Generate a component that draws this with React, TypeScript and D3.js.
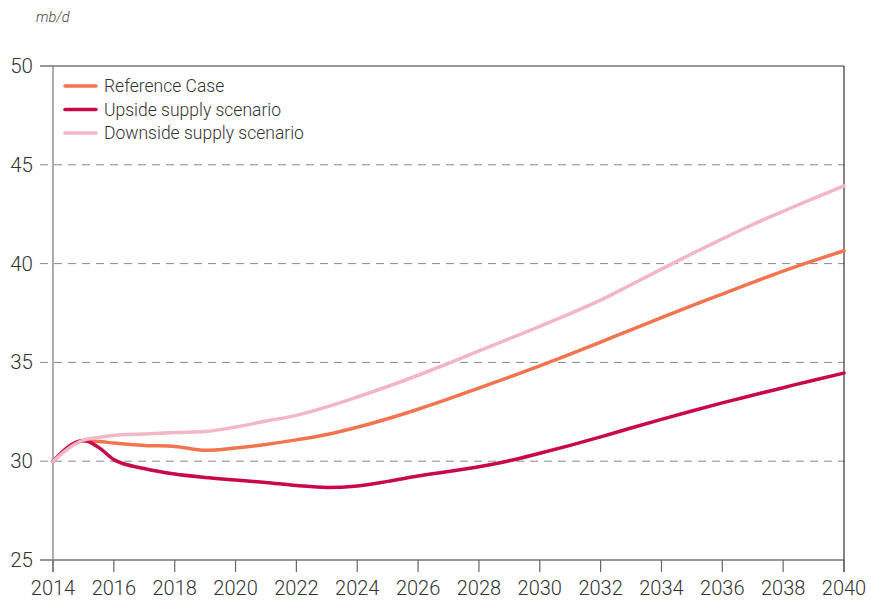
import React from "react";
import * as d3 from "d3";

const years = [2014, 2015, 2015.5, 2016, 2017, 2018, 2019, 2020, 2021, 2022, 2023, 2024, 2025, 2026, 2027, 2028, 2029, 2030, 2031, 2032, 2033, 2034, 2035, 2036, 2037, 2038, 2039, 2040];
const referenceCase = [30.0, 31.02, 31.0, 30.92, 30.8, 30.75, 30.55, 30.67, 30.85, 31.08, 31.35, 31.72, 32.15, 32.63, 33.15, 33.7, 34.25, 34.82, 35.42, 36.03, 36.65, 37.26, 37.87, 38.46, 39.05, 39.62, 40.15, 40.65];
const upsideSupply = [30.0, 31.05, 30.7, 30.08, 29.63, 29.35, 29.18, 29.05, 28.92, 28.77, 28.67, 28.75, 28.98, 29.25, 29.48, 29.72, 30.02, 30.4, 30.8, 31.23, 31.68, 32.12, 32.54, 32.95, 33.34, 33.72, 34.1, 34.46];
const downsideSupply = [30.0, 31.07, 31.2, 31.3, 31.38, 31.45, 31.5, 31.73, 32.03, 32.32, 32.75, 33.25, 33.78, 34.35, 34.95, 35.58, 36.2, 36.82, 37.47, 38.15, 38.93, 39.72, 40.5, 41.25, 41.98, 42.65, 43.3, 43.93];

const xTicks = [2014, 2016, 2018, 2020, 2022, 2024, 2026, 2028, 2030, 2032, 2034, 2036, 2038, 2040];
const yTicks = [25, 30, 35, 40, 45, 50];
const seriesNames = ["Reference Case", "Upside supply scenario", "Downside supply scenario"];
const seriesColors = ["#f2754f", "#c8084a", "#f2b6c6"];
const unitLabel = "mb/d";

const W = 871;
const H = 600;
const M = { left: 53, right: 844, top: 66, bottom: 560 };
const FONT = "Roboto, 'Open Sans', sans-serif";

export default function App() {
  const x = d3.scaleLinear().domain([2014, 2040]).range([M.left, M.right]);
  const y = d3.scaleLinear().domain([25, 50]).range([M.bottom, M.top]);
  const line = d3
    .line<number>()
    .x((_, i) => x(years[i]))
    .y((d) => y(d))
    .curve(d3.curveMonotoneX);
  const series = [referenceCase, upsideSupply, downsideSupply];
  const drawOrder = [0, 1, 2];

  return (
    <svg width={W} height={H} style={{ position: "absolute", left: 0, top: 0, background: "#fff" }}>
      <text x={36} y={22} fontFamily={FONT} fontStyle="italic" fontWeight={300} fontSize={14.5} fill="#444">
        {unitLabel}
      </text>
      {/* gridlines */}
      {yTicks.filter((t) => t > 25 && t < 50).map((t) => (
        <line key={t} x1={40} x2={M.right} y1={y(t)} y2={y(t)} stroke="#888" strokeWidth={1} strokeDasharray="8,6" />
      ))}
      {/* frame */}
      <line x1={40} x2={M.right} y1={y(50)} y2={y(50)} stroke="#333" strokeWidth={1.2} />
      <line x1={40} x2={M.right} y1={y(25)} y2={y(25)} stroke="#333" strokeWidth={1.2} />
      <line x1={M.left} x2={M.left} y1={M.top} y2={M.bottom + 12} stroke="#777" strokeWidth={1.2} />
      <line x1={M.right} x2={M.right} y1={M.top} y2={M.bottom + 12} stroke="#333" strokeWidth={1.2} />
      {/* y labels */}
      {yTicks.map((t) => (
        <text key={t} x={33} y={y(t) + 7} textAnchor="end" fontFamily={FONT} fontWeight={300} fontSize={20.5} fill="#333">
          {t}
        </text>
      ))}
      {/* x ticks */}
      {xTicks.map((t) => (
        <g key={t}>
          <line x1={x(t)} x2={x(t)} y1={M.bottom} y2={M.bottom + 12} stroke="#666" strokeWidth={1.2} />
          <text x={x(t)} y={595} textAnchor="middle" fontFamily={FONT} fontWeight={300} fontSize={20} fill="#333">
            {t}
          </text>
        </g>
      ))}
      {/* lines */}
      {drawOrder.map((i) => (
        <path key={i} d={line(series[i]) || ""} fill="none" stroke={seriesColors[i]} strokeWidth={3.5} strokeLinecap="round" strokeLinejoin="round" />
      ))}
      {/* legend */}
      {seriesNames.map((n, i) => (
        <g key={n}>
          <line x1={65} x2={96} y1={86 + i * 23.5} y2={86 + i * 23.5} stroke={seriesColors[i]} strokeWidth={3.5} strokeLinecap="round" />
          <text x={104} y={86 + i * 23.5 + 6} fontFamily={FONT} fontWeight={300} fontSize={17.5} fill="#333">
            {n}
          </text>
        </g>
      ))}
    </svg>
  );
}
